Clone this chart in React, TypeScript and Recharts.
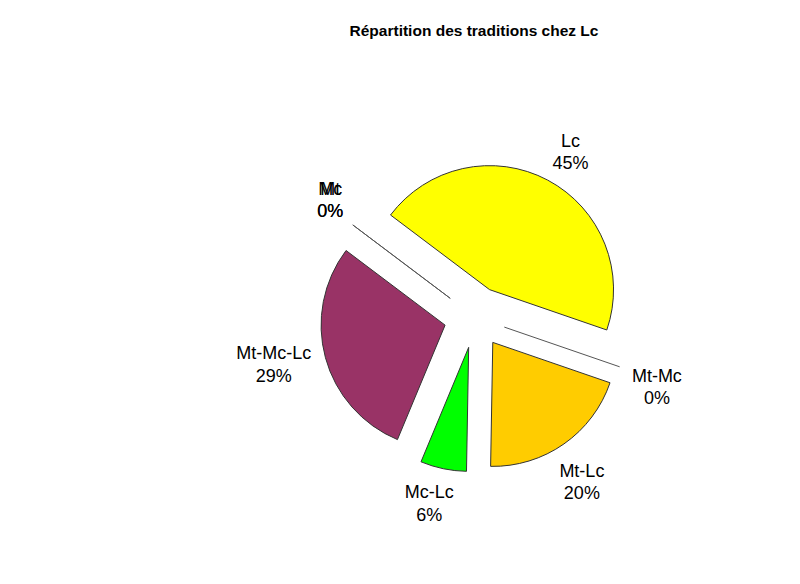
import { PieChart, Pie, Sector, Cell } from 'recharts';

const categories = ['Lc', 'Mt-Mc', 'Mt-Lc', 'Mc-Lc', 'Mt-Mc-Lc', 'Mt', 'Mc'];
const shares = [45, 0, 20, 6, 29, 0, 0];
const sliceColors = ['#FFFF00', '#3366FF', '#FFCC00', '#00FF00', '#993366', '#00CCFF', '#FF99CC'];

const data = categories.map((name, i) => ({ name, value: shares[i] }));

const RAD = Math.PI / 180;
const EXPLODE = 31;
const FONT = '"Liberation Sans", Arial, sans-serif';

function ExplodedSlice(props: any) {
  const { cx, cy, innerRadius, outerRadius, startAngle, endAngle, midAngle, fill, value } = props;
  if (!value) return <g />;
  const dx = EXPLODE * Math.cos(midAngle * RAD);
  const dy = -EXPLODE * Math.sin(midAngle * RAD);
  return (
    <Sector
      cx={cx + dx}
      cy={cy + dy}
      innerRadius={innerRadius}
      outerRadius={outerRadius}
      startAngle={startAngle}
      endAngle={endAngle}
      fill={fill}
      stroke="#333"
      strokeWidth={1}
    />
  );
}

function SliceLabel(props: any) {
  const { cx, cy, midAngle, percent, name, value } = props;
  const cos = Math.cos(midAngle * RAD);
  const sin = -Math.sin(midAngle * RAD);
  // labels sit a touch clockwise of the slice middle
  const la = (midAngle - 2) * RAD;
  const lcos = Math.cos(la);
  const lsin = -Math.sin(la);
  const pct = `${Math.round((percent ?? 0) * 100)}%`;
  // push the two-line label box out so its edge sits clear of the slice
  const halfW = Math.max(String(name).length, pct.length) * 4.7;
  const r = 165 + halfW * Math.abs(lcos) + 22 * Math.abs(lsin);
  const x = cx + r * lcos;
  const y = cy + r * lsin;
  return (
    <g>
      {!value && (
        <line
          x1={cx + EXPLODE * cos}
          y1={cy + EXPLODE * sin}
          x2={cx + 153 * cos}
          y2={cy + 153 * sin}
          stroke="#555"
          strokeWidth={1}
        />
      )}
      <text
        x={x}
        y={y - 11}
        textAnchor="middle"
        dominantBaseline="central"
        fontFamily={FONT}
        fontSize={18}
        fill="#000"
      >
        {name}
      </text>
      <text
        x={x}
        y={y + 11.5}
        textAnchor="middle"
        dominantBaseline="central"
        fontFamily={FONT}
        fontSize={18}
        fill="#000"
      >
        {pct}
      </text>
    </g>
  );
}

export default function App() {
  return (
    <div style={{ width: 800, height: 584, background: '#fff' }}>
      <style>{'body{margin:0}'}</style>
      <PieChart width={800} height={584} margin={{ top: 0, right: 0, bottom: 0, left: 0 }}>
        <text
          x={474}
          y={30}
          textAnchor="middle"
          dominantBaseline="central"
          fontFamily={FONT}
          fontSize={15.5}
          fontWeight="bold"
          fill="#000"
        >
          Répartition des traditions chez Lc
        </text>
        <Pie
          data={data}
          dataKey="value"
          nameKey="name"
          cx={475}
          cy={317}
          outerRadius={124}
          startAngle={143}
          endAngle={-217}
          isAnimationActive={false}
          shape={ExplodedSlice}
          label={SliceLabel}
          labelLine={false}
        >
          {data.map((_, i) => (
            <Cell key={i} fill={sliceColors[i]} />
          ))}
        </Pie>
      </PieChart>
    </div>
  );
}
